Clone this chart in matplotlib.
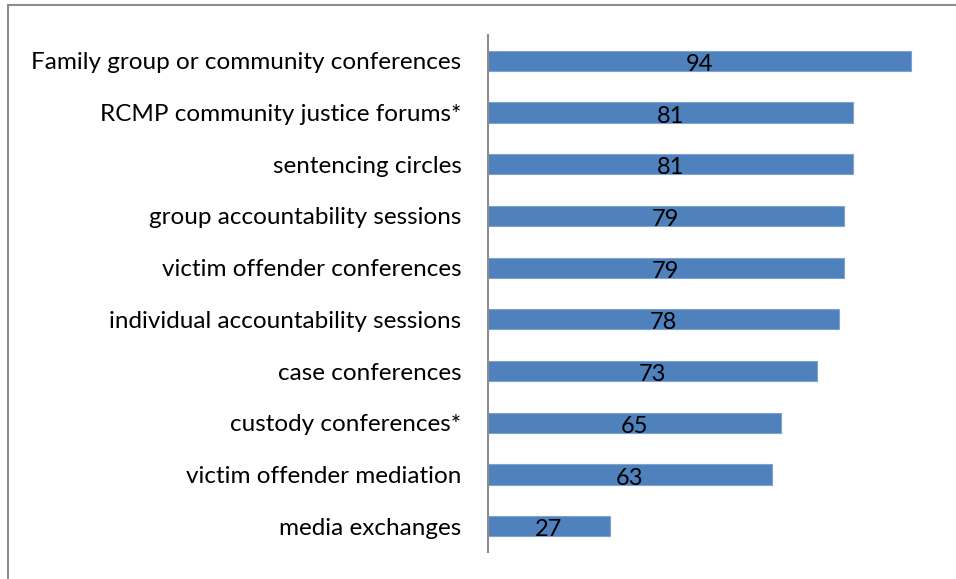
import matplotlib
matplotlib.use("Agg")
import matplotlib.pyplot as plt
from matplotlib.patches import Rectangle

categories = [
    "Family group or community conferences",
    "RCMP community justice forums*",
    "sentencing circles",
    "group accountability sessions",
    "victim offender conferences",
    "individual accountability sessions",
    "case conferences",
    "custody conferences*",
    "victim offender mediation",
    "media exchanges",
]
values = [94, 81, 81, 79, 79, 78, 73, 65, 63, 27]

plt.rcParams["font.family"] = ["Lato", "DejaVu Sans"]

fig = plt.figure(figsize=(9.56, 5.79), dpi=100)
ax = fig.add_axes([488 / 956, 27 / 579, 450 / 956, 517 / 579])

pos = list(range(len(categories)))
ax.barh(pos, values, height=0.39, color="#4f81bd", edgecolor="#7ea3d3", linewidth=0.8)
for y, v in zip(pos, values):
    ax.text(v / 2, y + 0.07, f"{v}", ha="center", va="center", fontsize=17, color="black")

ax.set_ylim(len(categories) - 0.5, -0.5)
ax.set_xlim(0, 100)
ax.set_yticks(pos)
ax.set_yticklabels(categories, fontsize=17.5)
ax.tick_params(axis="y", length=0, pad=19)
ax.set_xticks([])
for s in ["top", "right", "bottom"]:
    ax.spines[s].set_visible(False)
ax.spines["left"].set_color("#8c8c8c")
ax.spines["left"].set_linewidth(1.5)

# outer chart frame
fig.patches.append(Rectangle((8 / 956, -0.05), 1.2, (574 / 579) + 0.05,
                             transform=fig.transFigure, fill=False,
                             edgecolor="#8c8c8c", linewidth=1.5))

fig.savefig("out.png", dpi=100, facecolor="white")
